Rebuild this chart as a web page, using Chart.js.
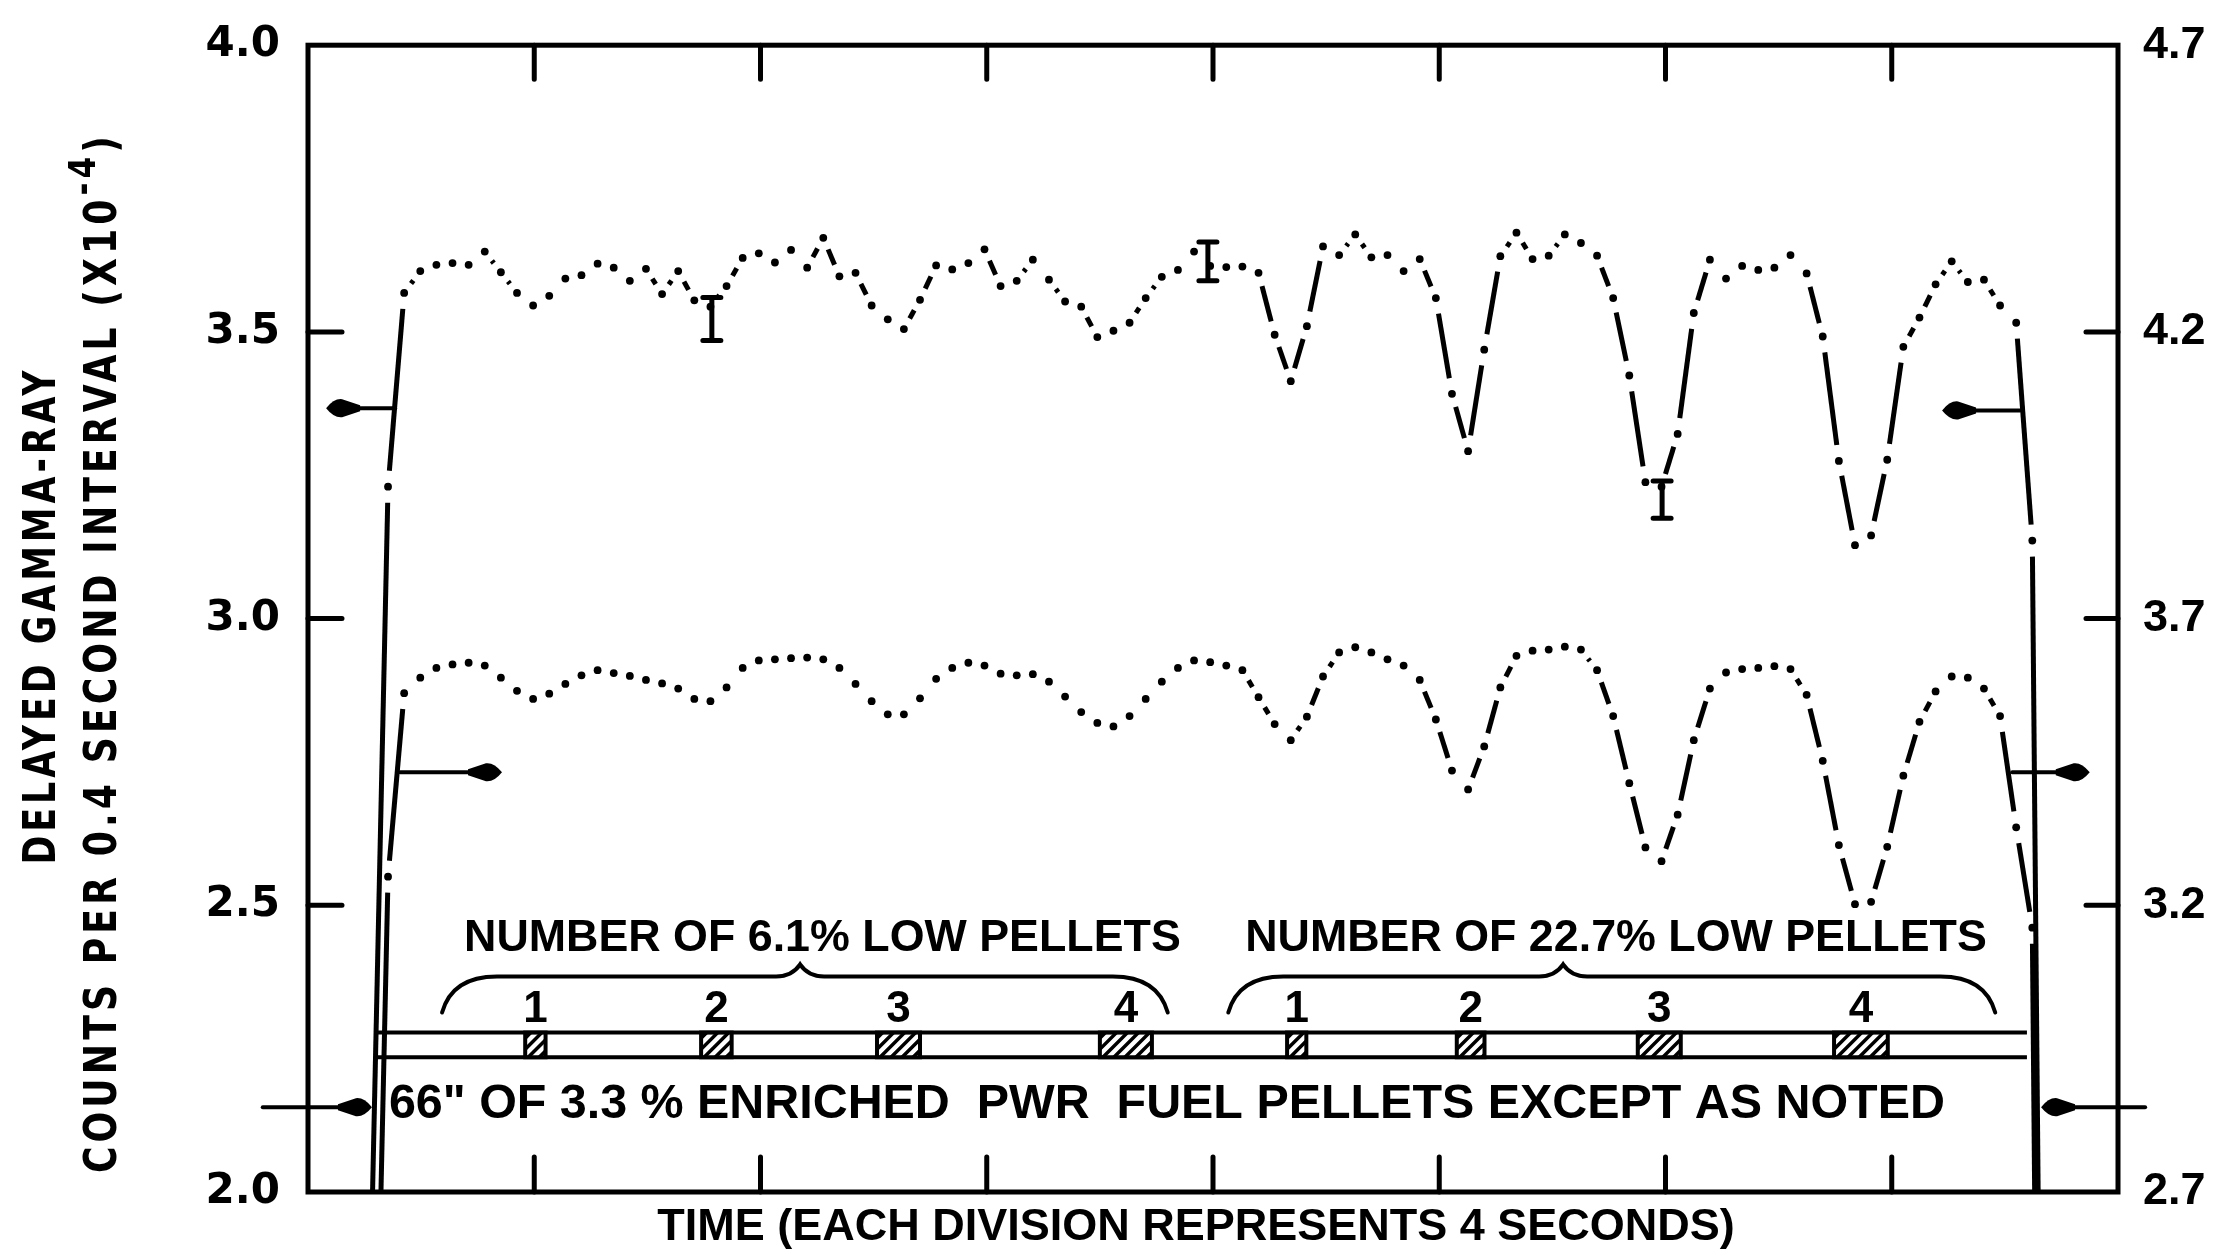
<!DOCTYPE html>
<html>
<head>
<meta charset="utf-8">
<title>Delayed gamma-ray counts</title>
<script src="https://cdn.jsdelivr.net/npm/chart.js@4.4.1/dist/chart.umd.min.js"></script>
<style>
  html, body { margin: 0; padding: 0; background: #fff; }
  #wrap { width: 2218px; height: 1251px; }
</style>
</head>
<body>
<div id="wrap"><canvas id="gammaChart"></canvas></div>
<script>
// counter channels: one reading every 0.285 s, first channel at 1.13 s
const sampleStart = 1.13;
const sampleStep = 0.285;

// upper trace, read on the left scale
const upperCounts = [
  1.95, 3.23,
  3.568, 3.606, 3.617, 3.620, 3.617, 3.640, 3.604, 3.568, 3.546, 3.563,
  3.593, 3.599, 3.619, 3.612, 3.589, 3.610, 3.566, 3.606, 3.555, 3.544,
  3.580, 3.629, 3.637, 3.621, 3.643, 3.612, 3.664, 3.597, 3.603, 3.546,
  3.522, 3.505, 3.556, 3.616, 3.609, 3.620, 3.644, 3.580, 3.589, 3.626,
  3.591, 3.553, 3.544, 3.491, 3.502, 3.516, 3.559, 3.596, 3.608, 3.640,
  3.615, 3.613, 3.614, 3.603, 3.495, 3.414, 3.510, 3.649, 3.634, 3.670,
  3.630, 3.634, 3.606, 3.627, 3.559, 3.392, 3.292, 3.469, 3.632, 3.673,
  3.627, 3.633, 3.670, 3.655, 3.633, 3.559, 3.424, 3.238, 3.230, 3.322,
  3.533, 3.626, 3.593, 3.615, 3.608, 3.612, 3.634, 3.602, 3.492, 3.275,
  3.128, 3.145, 3.277, 3.474, 3.525, 3.583, 3.623, 3.587, 3.591, 3.546,
  3.516, 3.136,
  0
];

// lower trace, read on the right scale
const lowerCounts = [
  2.0, 3.25,
  3.570, 3.597, 3.614, 3.620, 3.623, 3.618, 3.597, 3.574, 3.560, 3.569,
  3.586, 3.601, 3.610, 3.605, 3.600, 3.593, 3.587, 3.578, 3.560, 3.556,
  3.580, 3.614, 3.627, 3.629, 3.631, 3.632, 3.629, 3.614, 3.586, 3.556,
  3.533, 3.533, 3.561, 3.595, 3.614, 3.623, 3.618, 3.604, 3.601, 3.603,
  3.590, 3.564, 3.537, 3.518, 3.512, 3.530, 3.560, 3.590, 3.614, 3.627,
  3.624, 3.618, 3.610, 3.563, 3.516, 3.488, 3.529, 3.599, 3.641, 3.650,
  3.641, 3.629, 3.618, 3.593, 3.524, 3.435, 3.402, 3.477, 3.580, 3.635,
  3.644, 3.646, 3.651, 3.646, 3.610, 3.530, 3.413, 3.301, 3.277, 3.358,
  3.488, 3.578, 3.606, 3.612, 3.614, 3.617, 3.612, 3.567, 3.452, 3.305,
  3.202, 3.206, 3.302, 3.426, 3.520, 3.573, 3.599, 3.597, 3.578, 3.530,
  3.336, 3.161,
  0
];

const timeTicks = [0, 4, 8, 12, 16, 20, 24, 28, 32];
const leftTicks = [2.0, 2.5, 3.0, 3.5, 4.0];
const rightTicks = [2.7, 3.2, 3.7, 4.2, 4.7];

// error bars on the upper trace
const errorTimes = [7.14, 15.91, 23.94];
const errorLow = [3.485, 3.589, 3.175];
const errorHigh = [3.56, 3.657, 3.24];

// low-enrichment slugs in the fuel column (seconds along the time axis)
const pelletNumbers = [1, 2, 3, 4, 1, 2, 3, 4];
const pelletStart = [3.84, 6.95, 10.06, 14.00, 17.31, 20.31, 23.51, 26.98];
const pelletEnd = [4.20, 7.49, 10.82, 14.92, 17.65, 20.80, 24.27, 27.93];

const groupLabels = ['NUMBER OF 6.1% LOW PELLETS', 'NUMBER OF 22.7% LOW PELLETS'];
const columnLabel = '66" OF 3.3 % ENRICHED  PWR  FUEL PELLETS EXCEPT AS NOTED';

const toPoints = arr => arr.map((v, i) => ({ x: sampleStart + i * sampleStep, y: v }));

// plotter look: dots at every channel, a dash only where neighbours are far apart
const segLen = c => Math.hypot(c.p1.x - c.p0.x, c.p1.y - c.p0.y);
const segmentStyle = {
  borderColor: c => segLen(c) > 26 ? '#000' : 'rgba(0,0,0,0)',
  borderDash: c => {
    const L = segLen(c);
    const gap = Math.min(10 + 0.06 * L, 16);
    return L > 26 ? [0, gap, L - 2 * gap, 2 * L] : [];
  }
};

const traceStyle = {
  borderColor: '#000',
  borderWidth: 5,
  pointRadius: 3.9,
  pointHoverRadius: 3.9,
  pointBackgroundColor: '#000',
  pointBorderWidth: 0,
  tension: 0,
  segment: segmentStyle
};

function drawArrow(ctx, x0, y0, x1, y1) {
  const dir = Math.sign(x1 - x0);
  ctx.lineWidth = 4;
  ctx.beginPath();
  ctx.moveTo(x0, y0);
  ctx.lineTo(x1 - dir * 20, y1);
  ctx.stroke();
  ctx.beginPath();
  ctx.moveTo(x1, y1);
  ctx.quadraticCurveTo(x1 - dir * 8, y1 - 10, x1 - dir * 16, y1 - 9);
  ctx.lineTo(x1 - dir * 34, y1 - 3);
  ctx.lineTo(x1 - dir * 34, y1 + 3);
  ctx.lineTo(x1 - dir * 16, y1 + 9);
  ctx.quadraticCurveTo(x1 - dir * 8, y1 + 10, x1, y1);
  ctx.fill();
}

function drawBrace(ctx, xl, xr, xm, yEnd, yLine, yPeak) {
  ctx.lineWidth = 4;
  ctx.beginPath();
  ctx.moveTo(xl, yEnd);
  ctx.quadraticCurveTo(xl + 10, yLine, xl + 55, yLine);
  ctx.lineTo(xm - 24, yLine);
  ctx.quadraticCurveTo(xm - 8, yLine, xm, yPeak);
  ctx.quadraticCurveTo(xm + 8, yLine, xm + 24, yLine);
  ctx.lineTo(xr - 55, yLine);
  ctx.quadraticCurveTo(xr - 10, yLine, xr, yEnd);
  ctx.stroke();
}

function drawRotated(ctx, pieces, cx, cy, width) {
  ctx.save();
  ctx.translate(cx, cy);
  ctx.rotate(-Math.PI / 2);
  ctx.letterSpacing = '5px';
  let total = 0;
  pieces.forEach(p => {
    ctx.font = 'bold ' + p.size + 'px "DejaVu Sans"';
    p.w = ctx.measureText(p.text).width;
    total += p.w;
  });
  ctx.scale(width / total, 1);
  ctx.textAlign = 'left';
  ctx.textBaseline = 'middle';
  let pos = -total / 2;
  pieces.forEach(p => {
    ctx.font = 'bold ' + p.size + 'px "DejaVu Sans"';
    ctx.fillText(p.text, pos, -(p.rise || 0));
    pos += p.w;
  });
  ctx.restore();
}

const figurePlugin = {
  id: 'figure',
  afterDatasetsDraw(chart) {
    const { ctx, chartArea: a, scales: { x, y, y2 } } = chart;
    const px = t => x.getPixelForValue(t);
    const py = v => y.getPixelForValue(v);
    ctx.save();
    ctx.strokeStyle = '#000';
    ctx.fillStyle = '#000';
    ctx.lineCap = 'round';

    // frame and inward tick marks
    ctx.lineWidth = 5;
    ctx.strokeRect(a.left, a.top, a.right - a.left, a.bottom - a.top);
    ctx.beginPath();
    leftTicks.slice(1, -1).forEach(v => {
      ctx.moveTo(a.left, py(v)); ctx.lineTo(a.left + 34, py(v));
    });
    rightTicks.slice(1, -1).forEach(v => {
      const yy = y2.getPixelForValue(v);
      ctx.moveTo(a.right - 32, yy); ctx.lineTo(a.right, yy);
    });
    timeTicks.slice(1, -1).forEach(t => {
      ctx.moveTo(px(t), a.top); ctx.lineTo(px(t), a.top + 34);
      ctx.moveTo(px(t), a.bottom - 35); ctx.lineTo(px(t), a.bottom);
    });
    ctx.stroke();

    // error bars
    ctx.lineWidth = 5;
    errorTimes.forEach((t, i) => {
      const xx = px(t), lo = py(errorLow[i]), hi = py(errorHigh[i]);
      ctx.beginPath();
      ctx.moveTo(xx, lo); ctx.lineTo(xx, hi);
      ctx.moveTo(xx - 9, lo); ctx.lineTo(xx + 9, lo);
      ctx.moveTo(xx - 9, hi); ctx.lineTo(xx + 9, hi);
      ctx.stroke();
    });

    // which scale each trace uses
    drawArrow(ctx, px(1.54), py(3.367), px(0.32), py(3.367));
    drawArrow(ctx, px(30.27), py(3.363), px(28.89), py(3.363));
    drawArrow(ctx, px(1.63), y2.getPixelForValue(3.432), px(3.43), y2.getPixelForValue(3.432));
    drawArrow(ctx, px(30.13), y2.getPixelForValue(3.432), px(31.5), y2.getPixelForValue(3.432));
    drawArrow(ctx, px(-0.80), py(2.148), px(1.13), py(2.148));
    drawArrow(ctx, px(32.48), py(2.148), px(30.64), py(2.148));

    // fuel column strip with the low-pellet slugs
    const sTop = py(2.278), sBot = py(2.235);
    ctx.lineWidth = 4;
    ctx.lineCap = 'butt';
    ctx.beginPath();
    ctx.moveTo(px(1.18), sTop); ctx.lineTo(px(30.39), sTop);
    ctx.moveTo(px(1.18), sBot); ctx.lineTo(px(30.39), sBot);
    ctx.stroke();
    pelletStart.forEach((t, i) => {
      const x0 = px(t), x1 = px(pelletEnd[i]);
      ctx.fillStyle = '#fff';
      ctx.fillRect(x0, sTop, x1 - x0, sBot - sTop);
      ctx.fillStyle = '#000';
      ctx.lineWidth = 4;
      ctx.strokeRect(x0, sTop, x1 - x0, sBot - sTop);
      ctx.save();
      ctx.beginPath();
      ctx.rect(x0, sTop, x1 - x0, sBot - sTop);
      ctx.clip();
      ctx.lineWidth = 3.5;
      ctx.beginPath();
      for (let k = x0 - 30; k < x1 + 30; k += 11) {
        ctx.moveTo(k, sBot); ctx.lineTo(k + (sBot - sTop), sTop);
      }
      ctx.stroke();
      ctx.restore();
      ctx.font = 'bold 44px "Liberation Sans"';
      ctx.textAlign = 'center';
      ctx.textBaseline = 'middle';
      ctx.fillText(String(pelletNumbers[i]), (x0 + x1) / 2, py(2.318));
    });
    ctx.lineCap = 'round';

    // braces and group captions
    drawBrace(ctx, px(2.37), px(15.2), px(8.70), py(2.313), py(2.376), py(2.397));
    drawBrace(ctx, px(16.27), px(29.83), px(22.19), py(2.313), py(2.376), py(2.397));
    ctx.font = 'bold 45px "Liberation Sans"';
    ctx.textAlign = 'center';
    ctx.textBaseline = 'middle';
    ctx.fillText(groupLabels[0], (px(2.76) + px(15.43)) / 2, py(2.442), px(15.43) - px(2.76));
    ctx.fillText(groupLabels[1], (px(16.57) + px(29.68)) / 2, py(2.442), px(29.68) - px(16.57));
    ctx.font = 'bold 49px "Liberation Sans"';
    ctx.fillText(columnLabel, (px(1.43) + px(28.94)) / 2, py(2.153), px(28.94) - px(1.43));

    // axis titles
    ctx.font = 'bold 45px "Liberation Sans"';
    ctx.fillText('TIME (EACH DIVISION REPRESENTS 4 SECONDS)', (px(5.64) + px(25.76)) / 2, a.bottom + 36, px(25.76) - px(5.64));
    const midY = (a.top + a.bottom) / 2;
    drawRotated(ctx, [{ text: 'DELAYED GAMMA-RAY', size: 44 }], a.left - 264, midY - 3, 498);
    drawRotated(ctx, [
      { text: 'COUNTS PER 0.4 SECOND INTERVAL (X10', size: 44 },
      { text: '-4', size: 38, rise: 20 },
      { text: ')', size: 44 }
    ], a.left - 203, midY + 34, 1041);

    ctx.restore();
  }
};

new Chart(document.getElementById('gammaChart'), {
  type: 'line',
  data: {
    datasets: [
      Object.assign({ label: 'Upper trace', data: toPoints(upperCounts), yAxisID: 'y' }, traceStyle),
      Object.assign({ label: 'Lower trace', data: toPoints(lowerCounts), yAxisID: 'y2' }, traceStyle)
    ]
  },
  options: {
    responsive: true,
    maintainAspectRatio: false,
    animation: false,
    events: [],
    layout: { padding: { top: 42, left: 0, right: 0, bottom: 0 } },
    plugins: { legend: { display: false }, tooltip: { enabled: false } },
    scales: {
      x: {
        type: 'linear', min: 0, max: 32,
        grid: { display: false }, border: { display: false },
        ticks: { display: false },
        afterBuildTicks: s => { s.ticks = timeTicks.map(v => ({ value: v })); },
        afterFit: s => { s.height = 59; }
      },
      y: {
        type: 'linear', position: 'left', min: 2.0, max: 4.0,
        grid: { display: false }, border: { display: false },
        ticks: {
          color: '#000', padding: 20,
          font: { family: 'DejaVu Sans', size: 42, weight: 'bold' },
          callback: v => Number(v).toFixed(1)
        },
        afterBuildTicks: s => { s.ticks = leftTicks.map(v => ({ value: v })); },
        afterFit: s => { s.width = 308; }
      },
      y2: {
        type: 'linear', position: 'right', min: 2.7, max: 4.7,
        grid: { display: false }, border: { display: false },
        ticks: {
          color: '#000', padding: 17,
          font: { family: 'Liberation Sans', size: 45, weight: 'bold' },
          callback: v => Number(v).toFixed(1)
        },
        afterBuildTicks: s => { s.ticks = rightTicks.map(v => ({ value: v })); },
        afterFit: s => { s.width = 100; }
      }
    }
  },
  plugins: [figurePlugin]
});
</script>
</body>
</html>
